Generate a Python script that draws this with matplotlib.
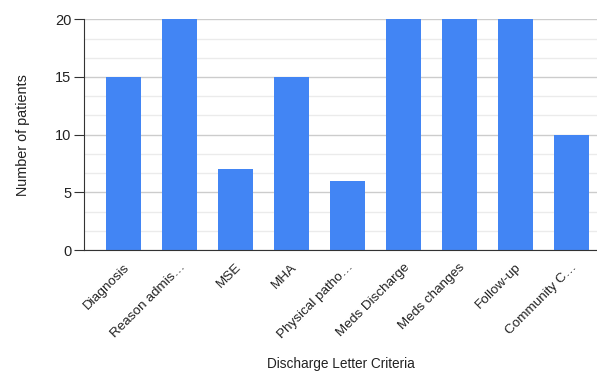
import matplotlib
matplotlib.use("Agg")
import matplotlib.pyplot as plt
from matplotlib.ticker import MultipleLocator

categories = ["Diagnosis", "Reason admis…", "MSE", "MHA", "Physical patho…",
              "Meds Discharge", "Meds changes", "Follow-up", "Community C…"]
patients = [15, 20, 7, 15, 6, 20, 20, 20, 10]
y_ticks = [0, 5, 10, 15, 20]

plt.rcParams["font.family"] = ["Liberation Sans", "DejaVu Sans"]

fig = plt.figure(figsize=(5.97, 3.73), dpi=100)
ax = fig.add_axes([84 / 597, 1 - 250 / 373, 1 - 84 / 597, (250 - 19.3) / 373])

x = list(range(len(categories)))
ax.bar(x, patients, width=0.63, color="#4285F4", zorder=3)

ax.set_xlim(-0.7, 8.46)
ax.set_ylim(0, 20)
ax.set_yticks(y_ticks)
ax.yaxis.set_minor_locator(MultipleLocator(5 / 3))
ax.grid(axis="y", which="major", color="#cccccc", linewidth=1, zorder=0)
ax.grid(axis="y", which="minor", color="#ebebeb", linewidth=1, zorder=0)

for s in ["top", "right"]:
    ax.spines[s].set_visible(False)
ax.spines["left"].set_color("#333333")
ax.spines["bottom"].set_color("#333333")
ax.spines["left"].set_zorder(4)
ax.spines["bottom"].set_zorder(4)

ax.tick_params(axis="y", which="major", length=7, color="#333333", labelsize=10.5,
               labelcolor="#222222", pad=2)
ax.tick_params(axis="y", which="minor", length=0)
ax.tick_params(axis="x", length=0, pad=8)

ax.set_xticks(x)
ax.set_xticklabels(categories, rotation=45, ha="right", rotation_mode="anchor",
                   fontsize=9.7, color="#222222")

ax.set_ylabel("Number of patients", fontsize=10.4, color="#222222", labelpad=18)
ax.set_xlabel("Discharge Letter Criteria", fontsize=9.8, color="#222222", labelpad=11)

fig.savefig("out.png", dpi=100)
